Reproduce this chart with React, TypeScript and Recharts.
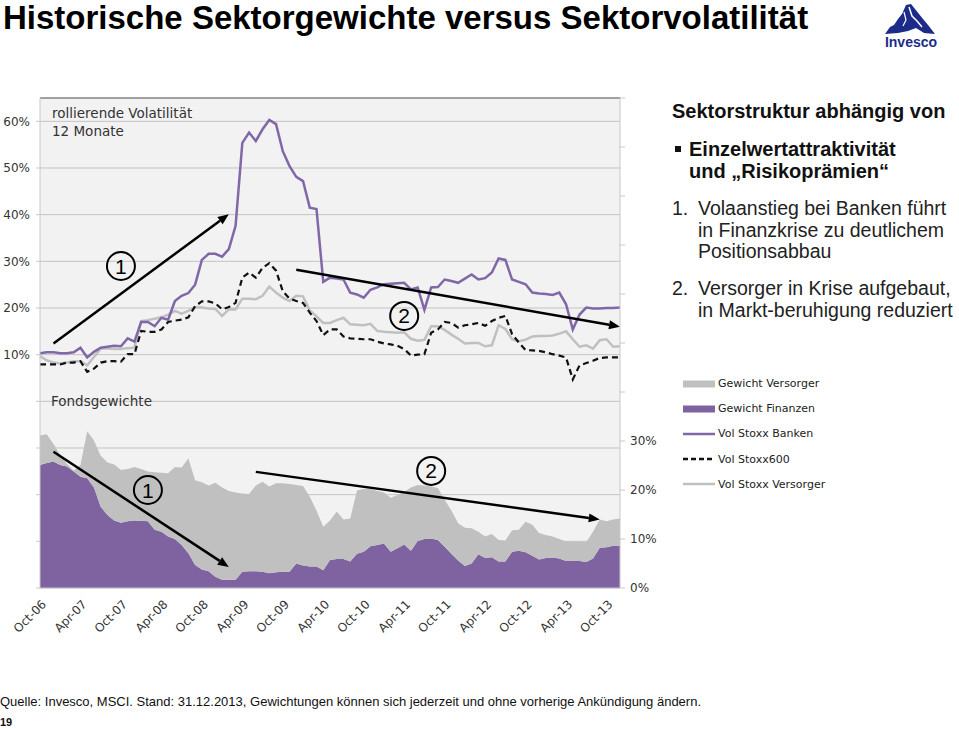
import React from "react";
import {
  ComposedChart,
  Area,
  Line,
  XAxis,
  YAxis,
  CartesianGrid,
  Legend,
  ReferenceLine,
  ReferenceDot,
} from "recharts";

// monthly categories, Oct-06 .. Dec-13
const months = [
  "Oct-06", "Nov-06", "Dec-06",
  "Jan-07", "Feb-07", "Mar-07", "Apr-07", "May-07", "Jun-07", "Jul-07", "Aug-07", "Sep-07", "Oct-07", "Nov-07", "Dec-07",
  "Jan-08", "Feb-08", "Mar-08", "Apr-08", "May-08", "Jun-08", "Jul-08", "Aug-08", "Sep-08", "Oct-08", "Nov-08", "Dec-08",
  "Jan-09", "Feb-09", "Mar-09", "Apr-09", "May-09", "Jun-09", "Jul-09", "Aug-09", "Sep-09", "Oct-09", "Nov-09", "Dec-09",
  "Jan-10", "Feb-10", "Mar-10", "Apr-10", "May-10", "Jun-10", "Jul-10", "Aug-10", "Sep-10", "Oct-10", "Nov-10", "Dec-10",
  "Jan-11", "Feb-11", "Mar-11", "Apr-11", "May-11", "Jun-11", "Jul-11", "Aug-11", "Sep-11", "Oct-11", "Nov-11", "Dec-11",
  "Jan-12", "Feb-12", "Mar-12", "Apr-12", "May-12", "Jun-12", "Jul-12", "Aug-12", "Sep-12", "Oct-12", "Nov-12", "Dec-12",
  "Jan-13", "Feb-13", "Mar-13", "Apr-13", "May-13", "Jun-13", "Jul-13", "Aug-13", "Sep-13", "Oct-13", "Nov-13", "Dec-13",
];

// rolling 12M volatility, %
const volBanken = [
  10.3, 10.5, 10.5, 10.3, 10.3, 10.5, 11.5, 9.4, 10.6, 11.5,
  11.7, 11.9, 11.8, 13.5, 12.8, 17.0, 17.0, 16.1, 17.9, 17.5,
  21.5, 22.6, 23.2, 25.0, 30.3, 31.6, 31.6, 31.0, 32.6, 37.6,
  55.4, 57.6, 55.8, 58.3, 60.3, 59.4, 53.6, 50.4, 48.1, 47.2,
  41.5, 41.2, 25.6, 26.5, 26.3, 26.1, 23.3, 22.9, 22.2, 23.9,
  24.4, 25.1, 25.2, 25.3, 25.4, 24.0, 24.4, 19.6, 24.4, 24.5,
  26.1, 25.8, 25.4, 26.3, 27.2, 26.1, 26.4, 27.6, 30.6, 30.3,
  26.1, 25.6, 25.1, 23.3, 23.1, 23.0, 22.8, 23.3, 20.8, 15.4,
  18.6, 20.1, 19.9, 19.9, 20.0, 20.0, 20.1,
];

const volStoxx600 = [
  7.9, 7.9, 7.9, 7.9, 8.3, 8.3, 8.6, 6.3, 7.0, 8.3,
  8.6, 8.6, 8.5, 10.1, 10.1, 15.1, 14.9, 14.9, 15.4, 17.0,
  17.3, 17.5, 18.0, 20.4, 21.4, 21.4, 21.0, 19.7, 20.2, 21.1,
  26.5, 27.6, 26.5, 28.6, 29.6, 28.0, 23.6, 22.0, 21.5, 21.1,
  19.0, 17.2, 14.2, 15.4, 15.4, 13.9, 13.5, 13.4, 13.3, 13.3,
  12.8, 12.4, 12.2, 11.9, 11.2, 9.8, 10.0, 10.1, 14.7, 15.4,
  17.0, 16.8, 15.8, 16.3, 16.5, 16.8, 16.2, 17.2, 17.9, 18.3,
  14.4, 12.6, 11.0, 10.9, 10.8, 10.5, 10.1, 9.8, 9.4, 4.7,
  7.7, 8.2, 8.7, 9.3, 9.4, 9.4, 9.4,
];

const volVersorger = [
  9.7, 8.8, 8.3, 8.1, 8.3, 8.6, 8.6, 7.7, 9.5, 11.3,
  11.3, 11.2, 11.2, 11.4, 11.5, 17.2, 17.4, 17.7, 18.0, 18.6,
  19.4, 18.8, 19.4, 20.2, 20.1, 19.9, 19.8, 18.3, 19.7, 19.7,
  22.0, 22.0, 21.9, 22.6, 24.6, 23.3, 22.2, 21.5, 22.6, 22.5,
  19.5, 18.2, 16.8, 16.8, 17.4, 17.9, 16.5, 16.4, 16.3, 16.6,
  15.1, 14.9, 14.8, 14.7, 14.8, 13.4, 13.0, 13.2, 16.1, 16.1,
  15.3, 14.3, 13.4, 12.4, 12.5, 12.5, 11.8, 12.0, 16.3, 15.5,
  13.3, 12.9, 13.2, 13.9, 14.0, 14.0, 14.1, 14.5, 15.0, 13.3,
  11.7, 12.0, 11.3, 13.1, 13.3, 11.7, 11.8,
];

// fund weights, %
const gewichtFinanzen = [
  25.1, 25.5, 25.8, 25.1, 24.8, 23.8, 22.7, 22.4, 20.5, 16.6,
  14.9, 13.8, 13.3, 13.6, 13.8, 13.7, 13.6, 11.9, 11.5, 10.5,
  10.0, 8.8, 7.1, 4.7, 3.8, 3.4, 2.3, 1.7, 1.7, 1.7,
  3.3, 3.4, 3.4, 3.3, 3.0, 3.2, 3.3, 3.3, 5.0, 4.6,
  4.4, 4.4, 3.6, 5.7, 5.9, 5.9, 5.4, 7.0, 7.4, 8.5,
  8.8, 9.1, 7.4, 8.1, 8.9, 7.6, 9.6, 10.0, 10.1, 9.8,
  8.4, 7.0, 5.6, 4.5, 5.0, 6.9, 6.1, 6.3, 5.4, 5.4,
  7.4, 7.6, 7.3, 6.6, 5.8, 6.1, 6.2, 6.0, 5.5, 5.5,
  5.5, 5.3, 6.0, 8.2, 8.3, 8.6, 8.6,
];

const gewichtVersorger = [
  6.0, 5.9, 3.6, 2.1, 0.5, 0.2, 2.4, 9.6, 9.6, 10.4,
  10.7, 11.4, 10.8, 10.7, 10.9, 10.6, 10.2, 11.7, 12.0, 12.9,
  14.7, 15.8, 19.4, 17.3, 17.8, 17.5, 19.2, 18.8, 18.1, 17.8,
  16.0, 15.8, 17.5, 18.4, 17.7, 18.2, 18.1, 17.9, 16.0, 16.2,
  14.2, 11.4, 8.9, 8.1, 9.7, 8.1, 8.8, 12.9, 12.8, 11.7,
  11.0, 10.4, 11.0, 10.9, 10.7, 12.9, 11.4, 10.9, 10.6, 10.6,
  9.6, 8.8, 7.6, 7.8, 7.2, 4.6, 4.4, 4.7, 4.4, 4.3,
  4.4, 4.3, 6.2, 6.3, 5.4, 4.7, 4.3, 4.0, 4.0, 4.0,
  4.0, 4.1, 5.5, 5.8, 5.3, 5.4, 5.6,
];

const volTicks = [-40, -30, -20, -10, 0, 10, 20, 30, 40, 50, 60];
const weightTicks = [0, 10, 20, 30, 40, 50, 60, 70, 80, 90, 100];

const legendOrder = [
  "Gewicht Versorger",
  "Gewicht Finanzen",
  "Vol Stoxx Banken",
  "Vol Stoxx600",
  "Vol Stoxx Versorger",
];

const PURPLE_AREA = "#7f63a1";
const PURPLE_LINE = "#8068a8";
const GREY = "#c0c0c0";

const legendStyles: Record<string, { rect: boolean; color: string; dash?: string }> = {
  "Gewicht Versorger": { rect: true, color: GREY },
  "Gewicht Finanzen": { rect: true, color: PURPLE_AREA },
  "Vol Stoxx Banken": { rect: false, color: PURPLE_LINE },
  "Vol Stoxx600": { rect: false, color: "#111", dash: "5 3" },
  "Vol Stoxx Versorger": { rect: false, color: GREY },
};

const sans = '"Liberation Sans", Arial, sans-serif';
const verd = '"DejaVu Sans", Verdana, sans-serif';

const chartData = months.map((m, i) => ({
  month: m,
  banken: volBanken[i],
  stoxx600: volStoxx600[i],
  versorger: volVersorger[i],
  finanzen: gewichtFinanzen[i],
  versorgerW: gewichtVersorger[i],
}));

const renderLegend = (props: any) => {
  const items = [...(props.payload ?? [])].sort(
    (a: any, b: any) => legendOrder.indexOf(a.value) - legendOrder.indexOf(b.value)
  );
  return (
    <div>
      {items.map((item: any) => {
        const st = legendStyles[item.value] ?? { rect: false, color: item.color };
        return (
          <div key={item.value} style={{ display: "flex", alignItems: "center", height: 25.2 }}>
            <svg width={34} height={10} style={{ display: "block" }}>
              {st.rect ? (
                <rect x={0} y={1.5} width={32} height={7} fill={st.color} />
              ) : (
                <line x1={0} x2={32} y1={5} y2={5} stroke={st.color} strokeWidth={2.5} strokeDasharray={st.dash} />
              )}
            </svg>
            <span style={{ fontFamily: verd, fontSize: 11, color: "#222", marginLeft: 1 }}>{item.value}</span>
          </div>
        );
      })}
    </div>
  );
};

// rotated month label, anchored at its right end
const MonthTick = (p: any) => {
  const { x, y, payload } = p;
  return (
    <text
      x={0}
      y={0}
      transform={`translate(${x + 7},${y + 9}) rotate(-45)`}
      textAnchor="end"
      fontSize={12}
      fontFamily={verd}
      fill="#333"
    >
      {payload.value}
    </text>
  );
};

// straight arrow with filled head at the end point
const arrow = (p: any) => {
  const { x1, y1, x2, y2 } = p;
  const a = Math.atan2(y2 - y1, x2 - x1);
  const L = 11;
  const W = 4.5;
  const bx = x2 - L * Math.cos(a);
  const by = y2 - L * Math.sin(a);
  const pts = `${x2},${y2} ${bx - W * Math.sin(a)},${by + W * Math.cos(a)} ${bx + W * Math.sin(a)},${by - W * Math.cos(a)}`;
  return (
    <g>
      <line x1={x1} y1={y1} x2={bx} y2={by} stroke="#000" strokeWidth={2.5} />
      <polygon points={pts} fill="#000" />
    </g>
  );
};

const circled = (label: string) => (p: any) => (
  <g>
    <circle cx={p.cx} cy={p.cy} r={14} fill="none" stroke="#000" strokeWidth={2} />
    <text x={p.cx} y={p.cy} dy="0.36em" textAnchor="middle" fontSize={21} fontFamily={sans} fill="#000">
      {label}
    </text>
  </g>
);

const Logo = () => (
  <svg width={70} height={52} style={{ position: "absolute", left: 878, top: 0 }}>
    <polygon
      points="7,34 12,27 16,25 20,19 24,14 28,5 33,4 37,9 41,14 45,19 50,25 57,34 46,33 38,28 30,31 20,33"
      fill="#1c2b8a"
    />
    <polyline points="31,7 34,16 39,21 44,27" fill="none" stroke="#fff" strokeWidth={1.5} />
    <polyline points="26,12 28,20 25,26" fill="none" stroke="#fff" strokeWidth={1.2} />
    <text x={33} y={47} textAnchor="middle" fontFamily={sans} fontWeight="bold" fontSize={14} fill="#1c2b8a">
      Invesco
    </text>
  </svg>
);

export default function App() {
  return (
    <div style={{ position: "absolute", left: 0, top: 0, width: 959, height: 729, background: "#fff", overflow: "hidden" }}>
      <div style={{ position: "absolute", left: 3, top: 0, fontFamily: sans, fontWeight: "bold", fontSize: 33, lineHeight: "36px", color: "#000", whiteSpace: "nowrap" }}>
        Historische Sektorgewichte versus Sektorvolatilität
      </div>
      <Logo />

      <div style={{ position: "absolute", left: 0, top: 90 }}>
        <ComposedChart width={850} height={560} data={chartData} margin={{ top: 8, right: 190, bottom: 0, left: 0 }}>
          <CartesianGrid yAxisId="vol" vertical={false} stroke="#c3c3c3" fill="#f2f2f2" fillOpacity={1} />
          <XAxis
            dataKey="month"
            interval={5}
            height={62}
            tickLine={false}
            axisLine={{ stroke: "#c8c8c8" }}
            tick={<MonthTick />}
          />
          <YAxis
            yAxisId="vol"
            width={40}
            domain={[-40, 65]}
            ticks={volTicks}
            tickSize={4}
            tickMargin={6}
            axisLine={{ stroke: "#c8c8c8" }}
            tickLine={{ stroke: "#c8c8c8" }}
            tick={{ fontSize: 12, fill: "#333", fontFamily: verd }}
            tickFormatter={(v: number) => (v >= 10 ? `${v}%` : "")}
          />
          <YAxis
            yAxisId="w"
            orientation="right"
            width={40}
            domain={[0, 100]}
            ticks={weightTicks}
            tickSize={5}
            tickMargin={5}
            axisLine={{ stroke: "#c8c8c8" }}
            tickLine={{ stroke: "#c8c8c8" }}
            tick={{ fontSize: 12, fill: "#333", fontFamily: verd }}
            tickFormatter={(v: number) => (v <= 30 ? `${v}%` : "")}
          />
          <ReferenceLine yAxisId="vol" y={65} stroke="#a0a0a0" strokeWidth={2} />

          <Area
            yAxisId="w"
            stackId="w"
            type="linear"
            dataKey="finanzen"
            name="Gewicht Finanzen"
            fill={PURPLE_AREA}
            fillOpacity={1}
            stroke="none"
            isAnimationActive={false}
          />
          <Area
            yAxisId="w"
            stackId="w"
            type="linear"
            dataKey="versorgerW"
            name="Gewicht Versorger"
            fill={GREY}
            fillOpacity={1}
            stroke="none"
            isAnimationActive={false}
          />
          <Line
            yAxisId="vol"
            type="linear"
            dataKey="versorger"
            name="Vol Stoxx Versorger"
            stroke={GREY}
            strokeWidth={2.5}
            dot={false}
            isAnimationActive={false}
          />
          <Line
            yAxisId="vol"
            type="linear"
            dataKey="stoxx600"
            name="Vol Stoxx600"
            stroke="#111"
            strokeWidth={2.2}
            strokeDasharray="6 4"
            dot={false}
            isAnimationActive={false}
          />
          <Line
            yAxisId="vol"
            type="linear"
            dataKey="banken"
            name="Vol Stoxx Banken"
            stroke={PURPLE_LINE}
            strokeWidth={2.5}
            dot={false}
            isAnimationActive={false}
          />

          <ReferenceLine yAxisId="vol" segment={[{ x: "Dec-06", y: 12.4 }, { x: "Feb-09", y: 40.1 }]} shape={arrow} />
          <ReferenceLine yAxisId="vol" segment={[{ x: "Dec-09", y: 28.2 }, { x: "Dec-13", y: 16.0 }]} shape={arrow} />
          <ReferenceLine yAxisId="w" segment={[{ x: "Dec-06", y: 27.8 }, { x: "Feb-09", y: 4.3 }]} shape={arrow} />
          <ReferenceLine yAxisId="w" segment={[{ x: "Jun-09", y: 23.7 }, { x: "Sep-13", y: 14.0 }]} shape={arrow} />
          <ReferenceDot yAxisId="vol" x="Oct-07" y={29} r={14} shape={circled("1")} />
          <ReferenceDot yAxisId="vol" x="Apr-11" y={18.3} r={14} shape={circled("2")} />
          <ReferenceDot yAxisId="w" x="Feb-08" y={20} r={14} shape={circled("1")} />
          <ReferenceDot yAxisId="w" x="Aug-11" y={23.9} r={14} shape={circled("2")} />

          <Legend
            layout="vertical"
            align="center"
            verticalAlign="middle"
            content={renderLegend}
            wrapperStyle={{ left: 683, top: 281, width: 170 }}
          />
        </ComposedChart>
      </div>

      <div style={{ position: "absolute", left: 52, top: 104, fontFamily: verd, fontSize: 13.5, lineHeight: "18px", color: "#333", whiteSpace: "nowrap" }}>
        rollierende Volatilität
        <br />
        12 Monate
      </div>
      <div style={{ position: "absolute", left: 51, top: 392, fontFamily: verd, fontSize: 13.5, lineHeight: "18px", color: "#333", whiteSpace: "nowrap" }}>
        Fondsgewichte
      </div>

      <div style={{ position: "absolute", left: 672, top: 100, fontFamily: sans, fontWeight: "bold", fontSize: 20, lineHeight: "22px", color: "#111", whiteSpace: "nowrap" }}>
        Sektorstruktur abhängig von
      </div>
      <div style={{ position: "absolute", left: 675, top: 146, width: 6, height: 6, background: "#111" }} />
      <div style={{ position: "absolute", left: 689, top: 138, fontFamily: sans, fontWeight: "bold", fontSize: 20, lineHeight: "22px", color: "#111", whiteSpace: "nowrap" }}>
        Einzelwertattraktivität
        <br />
        und „Risikoprämien“
      </div>
      <div style={{ position: "absolute", left: 672, top: 198, fontFamily: sans, fontSize: 19.5, lineHeight: "21.5px", color: "#222", whiteSpace: "nowrap" }}>
        <div>
          1.<span style={{ position: "absolute", left: 26 }}>Volaanstieg bei Banken führt</span>
        </div>
        <div style={{ paddingLeft: 26 }}>in Finanzkrise zu deutlichem</div>
        <div style={{ paddingLeft: 26 }}>Positionsabbau</div>
      </div>
      <div style={{ position: "absolute", left: 672, top: 278, fontFamily: sans, fontSize: 19.5, lineHeight: "21.5px", color: "#222", whiteSpace: "nowrap" }}>
        <div>
          2.<span style={{ position: "absolute", left: 26 }}>Versorger in Krise aufgebaut,</span>
        </div>
        <div style={{ paddingLeft: 26 }}>in Markt-beruhigung reduziert</div>
      </div>

      <div style={{ position: "absolute", left: 0, top: 694, fontFamily: sans, fontSize: 13, lineHeight: "16px", color: "#111", whiteSpace: "nowrap" }}>
        Quelle: Invesco, MSCI. Stand: 31.12.2013, Gewichtungen können sich jederzeit und ohne vorherige Ankündigung ändern.
      </div>
      <div style={{ position: "absolute", left: 0, top: 715, fontFamily: sans, fontWeight: "bold", fontSize: 11, lineHeight: "14px", color: "#111" }}>
        19
      </div>
    </div>
  );
}
